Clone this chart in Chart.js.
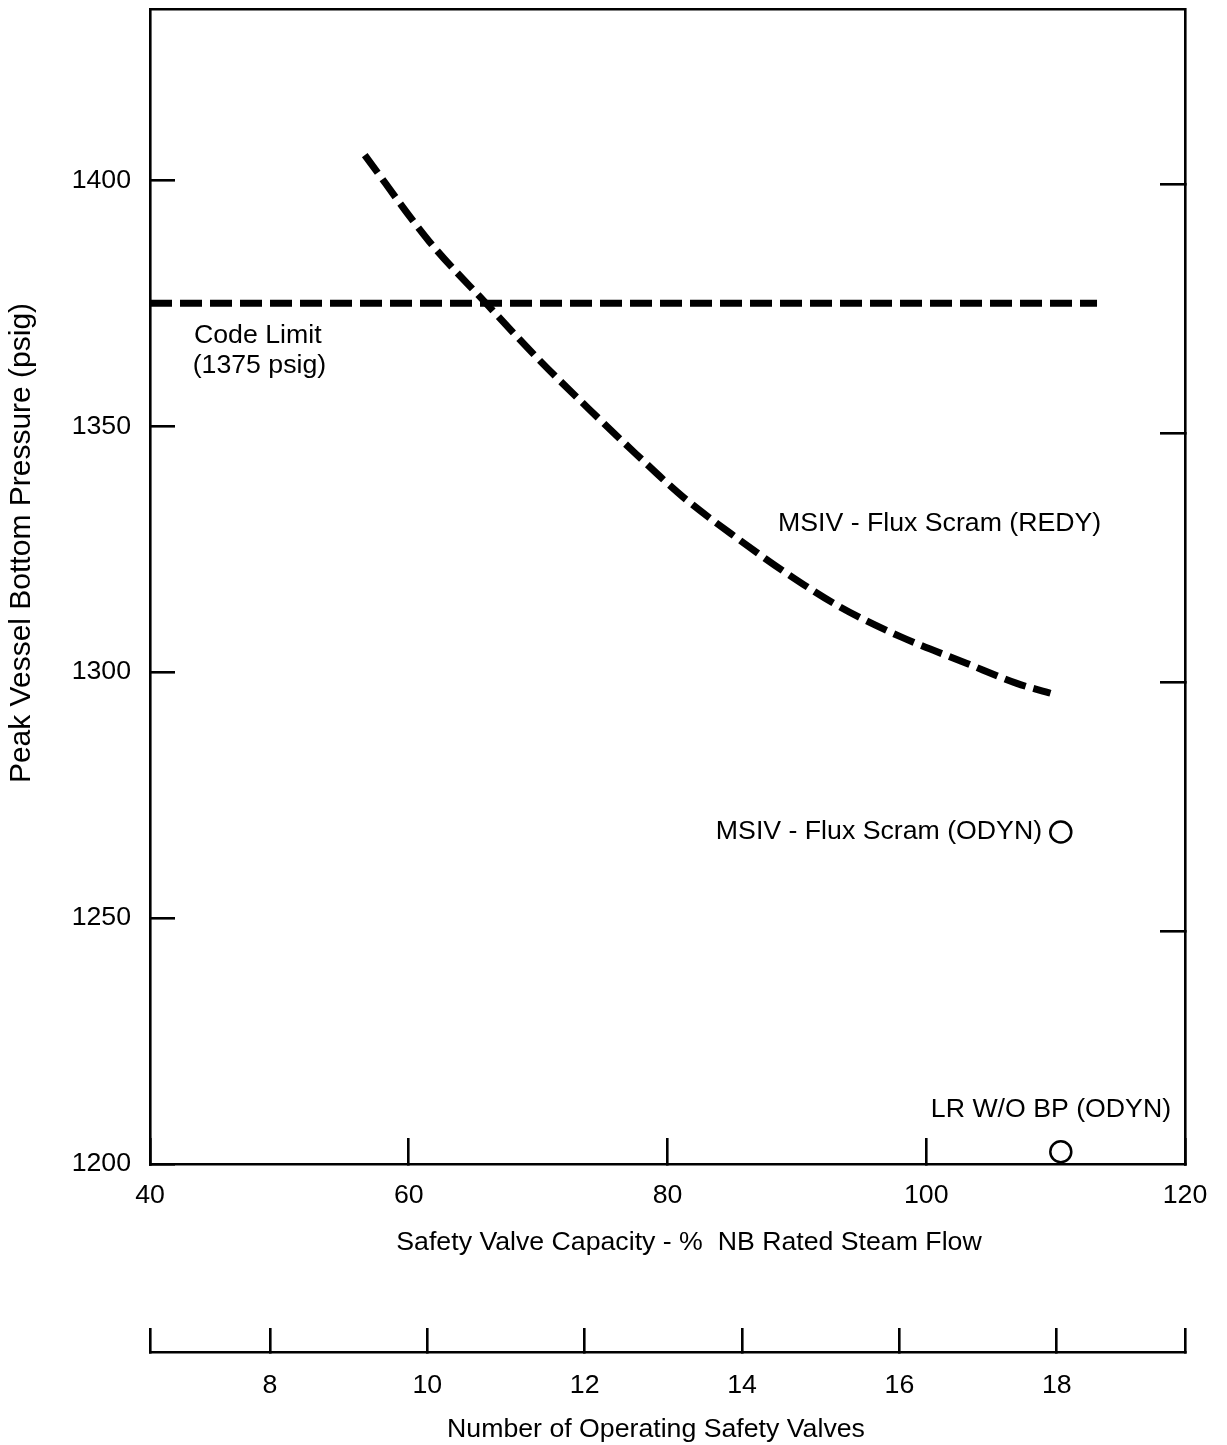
<!DOCTYPE html>
<html>
<head>
<meta charset="utf-8">
<script src="https://cdn.jsdelivr.net/npm/chart.js@4.4.1/dist/chart.umd.min.js"></script>
<style>
  html, body { margin: 0; padding: 0; background: #fff; }
  #wrap { width: 1227px; height: 1445px; }
</style>
</head>
<body>
<div id="wrap"><canvas id="c" width="1227" height="1445"></canvas></div>
<script>
// Tick values for each axis
const capacityTicks = [40, 60, 80, 100, 120];
const pressureTicks = [1200, 1250, 1300, 1350, 1400];
const rightPressureTicks = [1250, 1300, 1350, 1400];
const valveTicks = [8, 10, 12, 14, 16, 18];

// Axis ranges
const capacityRange = [40, 120];
const pressureRange = [1200, 1434.8];
const rightPressureRange = [1203.4, 1435.1];
const valveRange = [6.475, 19.63];

// MSIV - Flux Scram (REDY): peak pressure vs safety valve capacity
const redyCapacity = [56.6, 61.6, 66.0, 70.1, 74.0, 77.5, 81.2, 85.6, 89.2, 93.3, 98.0, 103.1, 107.0, 109.6];
const redyPressure = [1405.1, 1387.5, 1374.9, 1363.4, 1353.3, 1344.5, 1335.6, 1326.8, 1320.1, 1313.3, 1307.2, 1301.8, 1297.7, 1295.7];

// ASME code limit
const codeLimitCapacity = [40, 113.2];
const codeLimitPressure = [1375, 1375];

// ODYN single-point results
const odynCapacity = [110.4, 110.4];
const odynPressure = [1267.5, 1202.5];

const FONT_FAMILY = "'Liberation Sans', Arial, Helvetica, sans-serif";
const FONT = { family: FONT_FAMILY, size: 26.7 };
const INK = '#000';

// Text notes placed in data coordinates
const notes = [
  { text: 'Code Limit', at: [43.4, 1368.3], align: 'left' },
  { text: '(1375 psig)', at: [43.3, 1362.2], align: 'left' },
  { text: 'MSIV - Flux Scram (REDY)', at: [88.54, 1330.1], align: 'left' },
  { text: 'MSIV - Flux Scram (ODYN)', at: [108.95, 1267.5], align: 'right' },
  { text: 'LR W/O BP (ODYN)', at: [109.64, 1211.0], align: 'center' }
];

// Axis titles, placed on the canvas
const axisTitles = [
  { text: 'Peak Vessel Bottom Pressure (psig)', x: 22, y: 543, size: 30, rotate: -Math.PI / 2 },
  { text: 'Safety Valve Capacity - %  NB Rated Steam Flow', x: 689, y: 1243, size: 26.7, rotate: 0 },
  { text: 'Number of Operating Safety Valves', x: 656, y: 1430, size: 26.7, rotate: 0 }
];

const textPlugin = {
  id: 'chartText',
  afterDatasetsDraw(chart) {
    const { ctx, scales } = chart;
    ctx.save();
    ctx.font = `${FONT.size}px ${FONT_FAMILY}`;
    ctx.fillStyle = INK;
    ctx.textBaseline = 'middle';
    notes.forEach(n => {
      ctx.textAlign = n.align;
      ctx.fillText(n.text, scales.x.getPixelForValue(n.at[0]), scales.y.getPixelForValue(n.at[1]));
    });
    ctx.restore();
  },
  afterDraw(chart) {
    const { ctx } = chart;
    axisTitles.forEach(t => {
      ctx.save();
      ctx.font = `${t.size}px ${FONT_FAMILY}`;
      ctx.fillStyle = INK;
      ctx.textAlign = 'center';
      ctx.textBaseline = 'middle';
      ctx.translate(t.x, t.y);
      ctx.rotate(t.rotate);
      ctx.fillText(t.text, 0, 0);
      ctx.restore();
    });
  }
};

const toPoints = (xs, ys) => xs.map((v, i) => ({ x: v, y: ys[i] }));
const setTicks = values => scale => { scale.ticks = values.map(v => ({ value: v })); };

// Fix an axis box to a given size and drop the label overhang padding,
// so the plot frame sits exactly where the axes are placed.
const fixBox = (dim, size) => scale => {
  scale[dim] = size;
  scale.paddingLeft = 0;
  scale.paddingRight = 0;
  scale.paddingTop = 0;
  scale.paddingBottom = 0;
};

const gridInk = { drawOnChartArea: false, drawTicks: true, color: INK, lineWidth: 2.6 };
const borderInk = { display: true, color: INK, width: 2.6 };

new Chart(document.getElementById('c'), {
  type: 'line',
  data: {
    datasets: [
      {
        label: 'MSIV - Flux Scram (REDY)',
        data: toPoints(redyCapacity, redyPressure),
        borderColor: INK,
        borderWidth: 7,
        borderDash: [22, 8],
        borderCapStyle: 'butt',
        cubicInterpolationMode: 'monotone',
        pointRadius: 0,
        fill: false
      },
      {
        label: 'Code Limit (1375 psig)',
        data: toPoints(codeLimitCapacity, codeLimitPressure),
        borderColor: INK,
        borderWidth: 7,
        borderDash: [22, 8],
        borderCapStyle: 'butt',
        pointRadius: 0,
        fill: false
      },
      {
        label: 'ODYN',
        data: toPoints(odynCapacity, odynPressure),
        showLine: false,
        pointRadius: 10.5,
        pointBorderWidth: 2.5,
        pointBorderColor: INK,
        pointBackgroundColor: '#fff'
      }
    ]
  },
  options: {
    responsive: false,
    animation: false,
    events: [],
    layout: { padding: 0, autoPadding: false },
    plugins: {
      legend: { display: false },
      tooltip: { enabled: false }
    },
    scales: {
      x: {
        type: 'linear',
        position: 'bottom',
        weight: 0,
        min: capacityRange[0],
        max: capacityRange[1],
        afterBuildTicks: setTicks(capacityTicks),
        afterFit: fixBox('height', 188),
        ticks: { font: FONT, color: INK, padding: 42, maxRotation: 0, autoSkip: false, callback: v => String(v) },
        grid: { ...gridInk, tickLength: -26 },
        border: borderInk
      },
      valves: {
        type: 'linear',
        axis: 'x',
        position: 'bottom',
        weight: 1,
        min: valveRange[0],
        max: valveRange[1],
        afterBuildTicks: setTicks([valveRange[0], ...valveTicks, valveRange[1]]),
        afterFit: fixBox('height', 93),
        ticks: {
          font: FONT, color: INK, padding: 42, maxRotation: 0, autoSkip: false,
          callback: v => (valveTicks.includes(v) ? String(v) : '')
        },
        grid: { ...gridInk, tickLength: -24 },
        border: borderInk
      },
      frameTop: {
        type: 'linear',
        axis: 'x',
        position: 'top',
        min: capacityRange[0],
        max: capacityRange[1],
        afterFit: fixBox('height', 9),
        ticks: { display: false },
        grid: { display: false },
        border: borderInk
      },
      y: {
        type: 'linear',
        position: 'left',
        min: pressureRange[0],
        max: pressureRange[1],
        afterBuildTicks: setTicks(pressureTicks),
        afterFit: fixBox('width', 150),
        ticks: { font: FONT, color: INK, padding: 44, autoSkip: false, callback: v => String(v) },
        grid: { ...gridInk, tickLength: -25 },
        border: borderInk
      },
      yRight: {
        type: 'linear',
        axis: 'y',
        position: 'right',
        min: rightPressureRange[0],
        max: rightPressureRange[1],
        afterBuildTicks: setTicks(rightPressureTicks),
        afterFit: fixBox('width', 42),
        ticks: { display: false },
        grid: { ...gridInk, tickLength: -25 },
        border: borderInk
      }
    }
  },
  plugins: [textPlugin]
});
</script>
</body>
</html>
